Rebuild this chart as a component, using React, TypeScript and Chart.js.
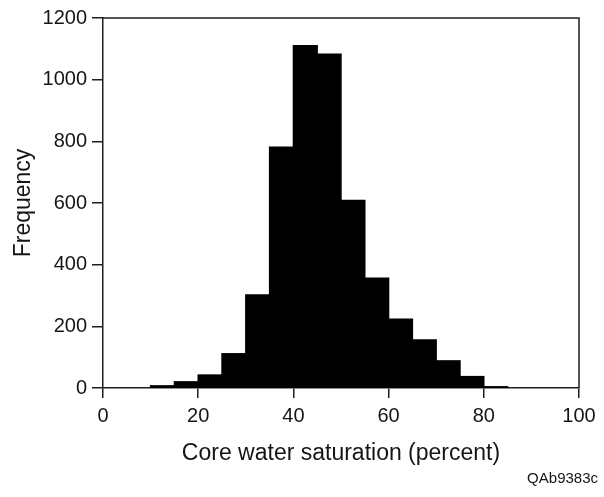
import React, { useEffect, useRef } from "react";
import { Chart, registerables } from "chart.js";

Chart.register(...registerables);

// Histogram bins (lower edges, percent) and frequencies
const binWidth = 5;
const binStarts = [10, 15, 20, 25, 30, 35, 40, 45, 50, 55, 60, 65, 70, 75, 80];
const frequencies = [7, 20, 42, 111, 302, 781, 1110, 1083, 608, 356, 223, 156, 88, 37, 4];

const xTitle = "Core water saturation (percent)";
const yTitle = "Frequency";
const figureId = "QAb9383c";

const FONT = "'Liberation Sans', Arial, Helvetica, sans-serif";
const INK = "#151515";
const LINE = "#1e1e1e";

export default function App() {
  const ref = useRef<HTMLCanvasElement | null>(null);

  useEffect(() => {
    if (!ref.current) return;
    const boxPlugin = {
      id: "boxPlugin",
      afterDraw(chart: any) {
        const { ctx, chartArea } = chart;
        ctx.save();
        ctx.strokeStyle = LINE;
        ctx.lineWidth = 1.5;
        ctx.beginPath();
        ctx.moveTo(chartArea.left, chartArea.top);
        ctx.lineTo(chartArea.right, chartArea.top);
        ctx.lineTo(chartArea.right, chartArea.bottom);
        ctx.stroke();
        ctx.fillStyle = INK;
        ctx.font = `15px ${FONT}`;
        ctx.textAlign = "right";
        ctx.textBaseline = "middle";
        ctx.fillText(figureId, 598, 479);
        ctx.restore();
      },
    };

    const chart = new Chart(ref.current, {
      type: "bar",
      data: {
        datasets: [
          {
            data: binStarts.map((s, i) => ({ x: s + binWidth / 2, y: frequencies[i] })),
            backgroundColor: "#000",
            borderColor: "#000",
            borderWidth: 0,
            inflateAmount: 0.7,
            barPercentage: 1,
            categoryPercentage: 1,
          },
        ],
      },
      options: {
        animation: false,
        responsive: false,
        layout: { padding: { left: 0, right: 25, top: 18, bottom: 29 } },
        plugins: { legend: { display: false }, tooltip: { enabled: false } },
        scales: {
          x: {
            type: "linear",
            min: 0,
            max: 100,
            offset: false,
            grid: {
              offset: false,
              drawOnChartArea: false,
              drawTicks: true,
              tickLength: 10,
              color: LINE,
              lineWidth: 1.5,
            },
            border: { display: true, color: LINE, width: 1.5 },
            ticks: {
              stepSize: 20,
              color: INK,
              padding: 6,
              maxRotation: 0,
              font: { family: FONT, size: 20 },
              callback: (v: any) => String(v),
            },
            title: {
              display: true,
              text: xTitle,
              color: INK,
              font: { family: FONT, size: 23 },
              padding: { top: 0, bottom: 1 },
            },
            afterFit: (s: any) => {
              s.height = 80;
            },
          },
          y: {
            min: 0,
            max: 1200,
            grid: {
              drawOnChartArea: false,
              drawTicks: true,
              tickLength: 11,
              color: LINE,
              lineWidth: 1.5,
            },
            border: { display: true, color: LINE, width: 1.5 },
            ticks: {
              stepSize: 200,
              color: INK,
              padding: 5,
              font: { family: FONT, size: 20 },
              callback: (v: any) => String(v),
            },
            title: {
              display: true,
              text: yTitle,
              color: INK,
              font: { family: FONT, size: 23 },
              padding: { top: 10, bottom: 0 },
            },
            afterFit: (s: any) => {
              s.width = 103;
            },
          },
        },
      },
      plugins: [boxPlugin],
    } as any);
    return () => chart.destroy();
  }, []);

  return (
    <div style={{ position: "fixed", left: 0, top: 0, width: 604, height: 497, background: "#fff" }}>
      <canvas ref={ref} width={604} height={497} style={{ display: "block" }} />
    </div>
  );
}
